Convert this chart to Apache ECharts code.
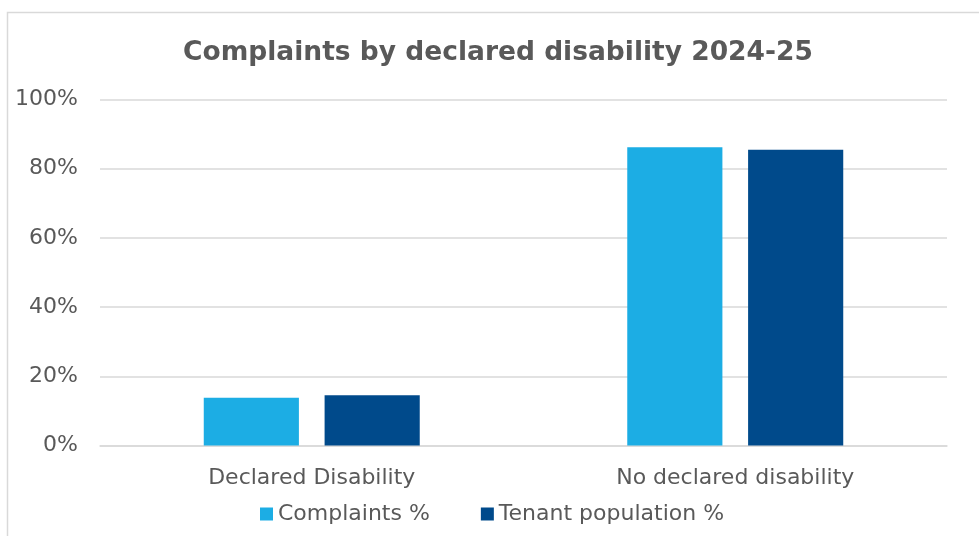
<!DOCTYPE html>
<html>
<head>
<meta charset="utf-8">
<script src="https://cdn.jsdelivr.net/npm/echarts@6/dist/echarts.min.js"></script>
<style>
  html, body { margin: 0; padding: 0; background: #fff; }
  #chart { width: 979px; height: 536px; }
</style>
</head>
<body>
<div id="chart"></div>
<script>
// Share of complaints vs tenant population, split by declared disability
const categories = ['Declared Disability', 'No declared disability'];
const complaintsPct = [13.8, 86.2];
const tenantPct = [14.5, 85.5];
const yTicks = [0, 20, 40, 60, 80, 100];

const TEXT = '#595959';
const FONT = 'DejaVu Sans';

const chart = echarts.init(document.getElementById('chart'), null, { renderer: 'canvas' });

chart.setOption({
  backgroundColor: '#ffffff',
  animation: false,
  title: {
    text: 'Complaints by declared disability 2024-25',
    left: 178,
    top: 35,
    textStyle: { color: TEXT, fontFamily: FONT, fontWeight: 'bold', fontSize: 26.5 }
  },
  graphic: [{
    type: 'rect',
    shape: { x: 7.5, y: 12.5, width: 1000, height: 600 },
    style: { fill: 'none', stroke: '#d9d9d9', lineWidth: 1.5 },
    silent: true
  }],
  legend: {
    bottom: 6,
    left: 255,
    itemWidth: 13,
    itemHeight: 13,
    itemGap: 51,
    icon: 'rect',
    textStyle: { color: TEXT, fontFamily: FONT, fontSize: 22 },
    data: ['Complaints %', 'Tenant population %']
  },
  grid: { left: 100, right: 32, top: 99.5, bottom: 90.5 },
  xAxis: {
    type: 'category',
    data: categories,
    axisTick: { show: false },
    axisLine: { lineStyle: { color: '#d9d9d9', width: 1.5 } },
    axisLabel: { color: TEXT, fontFamily: FONT, fontSize: 22, margin: 22 }
  },
  yAxis: {
    type: 'value',
    min: yTicks[0],
    max: yTicks[yTicks.length - 1],
    interval: yTicks[1] - yTicks[0],
    axisLine: { show: false },
    axisTick: { show: false },
    splitLine: { lineStyle: { color: '#d9d9d9', width: 1.5 } },
    axisLabel: { color: TEXT, fontFamily: FONT, fontSize: 22, margin: 22, formatter: '{value}%' }
  },
  series: [
    {
      name: 'Complaints %',
      type: 'bar',
      data: complaintsPct,
      barGap: '27%',
      barCategoryGap: '49%',
      itemStyle: { color: '#1cade4' }
    },
    {
      name: 'Tenant population %',
      type: 'bar',
      data: tenantPct,
      itemStyle: { color: '#004a8b' }
    }
  ]
});
</script>
</body>
</html>
